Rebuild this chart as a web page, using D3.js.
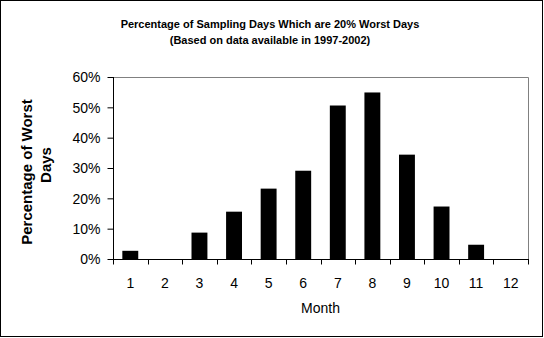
<!DOCTYPE html>
<html><head><meta charset="utf-8">
<script src="https://cdn.jsdelivr.net/npm/d3@7"></script>
<style>body{margin:0;background:#fff}svg{display:block}</style>
</head><body>
<script>
const months = ["1","2","3","4","5","6","7","8","9","10","11","12"];
const values = [0.027,0,0.087,0.156,0.232,0.291,0.506,0.549,0.344,0.173,0.047,0];
const yTicks = [0,0.1,0.2,0.3,0.4,0.5,0.6];
const titleLines = ["Percentage of Sampling Days Which are 20% Worst Days","(Based on data available in 1997-2002)"];
const yTitle = ["Percentage of Worst","Days"];
const xTitle = "Month";

const W=544,H=338;
const svg=d3.select("body").append("svg").attr("width",W).attr("height",H);
svg.append("rect").attr("x",0.5).attr("y",0.5).attr("width",542).attr("height",336).attr("fill","#fff").attr("stroke","#000");

const L=113,R=528,T=77,B=259;
const x=d3.scaleBand().domain(months).range([L,R]).paddingInner(0.54).paddingOuter(0.27);
const xb=d3.scaleBand().domain(months).range([L,R]);
const y=d3.scaleLinear().domain([0,0.6]).range([B,T]);

// plot border (gray top/right)
svg.append("path").attr("d",`M${L},${T+0.5}H${R+0.5}V${B}`).attr("fill","none").attr("stroke","#808080");

svg.selectAll("rect.bar").data(values).join("rect").attr("class","bar")
  .attr("x",(d,i)=>x(months[i])).attr("width",x.bandwidth())
  .attr("y",d=>y(d)).attr("height",d=>B-y(d)).attr("fill","#000");

// y axis
const ya=svg.append("g").attr("transform",`translate(${L+0.5},0)`)
  .call(d3.axisLeft(y).tickValues(yTicks).tickFormat(d3.format(".0%")).tickSize(6).tickPadding(7));
ya.select(".domain").attr("stroke","#000").attr("d",`M0,${T}V${B+0.5}`);
ya.selectAll("text").attr("font-family","Liberation Sans, Arial, sans-serif").attr("font-size",14).attr("fill","#000").attr("dy","0.35em");

// x axis
const xa=svg.append("g").attr("transform",`translate(0,${B+0.5})`);
xa.append("line").attr("x1",L).attr("x2",R+1).attr("stroke","#000");
const bounds=months.map(m=>xb(m)).concat([R]);
xa.selectAll("line.t").data(bounds).join("line").attr("class","t")
  .attr("x1",d=>Math.round(d)+0.5).attr("x2",d=>Math.round(d)+0.5).attr("y1",0).attr("y2",5).attr("stroke","#000");
xa.selectAll("text").data(months).join("text")
  .attr("x",d=>xb(d)+xb.bandwidth()/2).attr("y",24).attr("dy","0.35em").attr("text-anchor","middle")
  .attr("font-family","Liberation Sans, Arial, sans-serif").attr("font-size",14).text(d=>d);

svg.append("text").attr("x",(L+R)/2).attr("y",308).attr("dy","0.35em").attr("text-anchor","middle")
  .attr("font-family","Liberation Sans, Arial, sans-serif").attr("font-size",14).text(xTitle);

// title
svg.selectAll("text.title").data(titleLines).join("text").attr("class","title")
  .attr("x",270).attr("y",(d,i)=>24+i*16).attr("dy","0.35em").attr("text-anchor","middle")
  .attr("font-family","Liberation Sans, Arial, sans-serif").attr("font-weight","bold").attr("font-size",11).text(d=>d);

// y title
const ytPos=[[27,172],[46,165]];
svg.selectAll("text.yt").data(yTitle).join("text").attr("class","yt")
  .attr("transform",(d,i)=>`translate(${ytPos[i][0]},${ytPos[i][1]}) rotate(-90)`).attr("dy","0.35em").attr("text-anchor","middle")
  .attr("font-family","Liberation Sans, Arial, sans-serif").attr("font-weight","bold").attr("font-size",15).text(d=>d);
</script>
</body></html>
